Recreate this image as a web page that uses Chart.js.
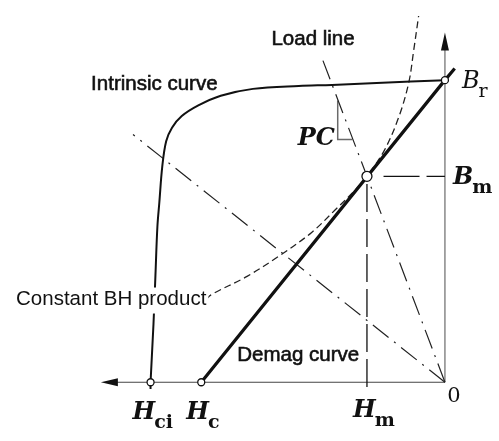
<!DOCTYPE html>
<html lang="en">
<head>
<meta charset="UTF-8">
<title>Demagnetization curve</title>
<script src="https://cdn.jsdelivr.net/npm/chart.js"></script>
<style>
  html, body { margin: 0; padding: 0; background: #fff; }
  #wrap { width: 499px; height: 441px; }
</style>
</head>
<body>
<div id="wrap"><canvas id="bh" width="499" height="441"></canvas></div>
<script>
// Second-quadrant B-H plane: H grows negative to the left, B grows upward, origin at lower right.

// key points: intrinsic coercivity, coercivity, operating point, remanence
const coercivityHci = -302;
const coercivityHc = -250;
const remanenceBr = 311;
const operatingH = -80;
const operatingB = 212;

// intrinsic curve (from Hci up to Br)
const intrinsicH = [-302, -302, -299, -297, -295, -293, -290, -286, -280, -270, -253, -230, -197, -150, -116, -70, 0];
const intrinsicB = [-7, 0, 60, 110, 160, 185, 222, 248, 262, 274, 285, 295, 302, 305, 306, 308, 311];

// constant BH product curve
const bhProductH = [-245, -240, -203, -170, -137, -113, -90, -80, -62, -47, -37, -32, -27];
const bhProductB = [85, 90, 109, 130, 154, 177, 200, 212, 239, 274, 309, 342, 377];

// demag line from Hc through Br, run a little past the B axis
const demagH = [coercivityHc, 0, 10];
const demagB = [0, remanenceBr, 323];

// load line through the origin and the operating point
const loadH = [0, operatingH, -127];
const loadB = [0, operatingB, 336];

// second dash-dot line from the origin
const diagH = [0, -320];
const diagB = [0, 255];

// slope triangle on the load line (PC)
const pcH = [-110, -110, -95];
const pcB = [290, 250, 250];

const axisHEnd = -353;
const axisBEnd = 360;

const xy = (hs, bs) => hs.map((h, i) => ({ x: h, y: bs[i] }));

const ink = '#111';
const grey = '#6a6a6a';
const sans = '"Liberation Sans", Arial, sans-serif';
const serif = '"DejaVu Serif", "Liberation Serif", serif';

const arrowsAndLabels = {
  id: 'arrowsAndLabels',
  afterDatasetsDraw(chart) {
    const ctx = chart.ctx;
    const px = v => chart.scales.x.getPixelForValue(v);
    const py = v => chart.scales.y.getPixelForValue(v);
    const ox = px(0), oy = py(0);

    // arrow heads at the axis ends
    ctx.save();
    ctx.fillStyle = ink;
    let tx = px(axisHEnd);
    ctx.beginPath();
    ctx.moveTo(tx, oy);
    ctx.lineTo(tx + 17, oy - 4);
    ctx.lineTo(tx + 17, oy + 4);
    ctx.closePath();
    ctx.fill();
    let ty = py(axisBEnd);
    ctx.beginPath();
    ctx.moveTo(ox, ty);
    ctx.lineTo(ox - 4, ty + 18);
    ctx.lineTo(ox + 4, ty + 18);
    ctx.closePath();
    ctx.fill();
    ctx.restore();

    function sansText(str, x, y, heavy, boxed) {
      ctx.save();
      ctx.font = '20.5px ' + sans;
      ctx.textBaseline = 'alphabetic';
      ctx.textAlign = 'left';
      if (boxed) {
        const w = ctx.measureText(str).width;
        ctx.fillStyle = '#fff';
        ctx.fillRect(x - 2, y - 17, w + 4, 26);
      }
      ctx.fillStyle = ink;
      ctx.fillText(str, x, y);
      if (heavy) {
        ctx.strokeStyle = ink;
        ctx.lineWidth = 0.6;
        ctx.strokeText(str, x, y);
      }
      ctx.restore();
    }

    // symbol with subscript, left edge at x, baseline at y
    function symbol(main, sub, x, y, bold, italicMain) {
      ctx.save();
      ctx.fillStyle = ink;
      ctx.textBaseline = 'alphabetic';
      ctx.textAlign = 'left';
      const w = bold ? 'bold ' : '';
      ctx.font = (italicMain ? 'italic ' : '') + w + '24px ' + serif;
      ctx.fillText(main, x, y);
      const mw = ctx.measureText(main).width;
      if (sub) {
        ctx.font = w + '19px ' + serif;
        ctx.fillText(sub, x + mw - 1, y + 9);
      }
      ctx.restore();
    }

    sansText('Intrinsic curve', px(-363), py(301), true);
    sansText('Load line', px(-178), py(347), true);
    sansText('Constant BH product', px(-440), py(80), false, true);
    sansText('Demag curve', px(-213), py(22), true);

    symbol('PC', '', px(-151), py(244), true, true);
    symbol('B', 'r', px(0) + 17, py(remanenceBr) + 8, false, true);
    symbol('B', 'm', px(0) + 8, py(operatingB) + 8, true, true);
    symbol('H', 'ci', px(coercivityHci) - 18, oy + 37, true, true);
    symbol('H', 'c', px(coercivityHc) - 15, oy + 37, true, true);
    symbol('H', 'm', px(operatingH) - 14, oy + 35, true, true);

    ctx.save();
    ctx.fillStyle = ink;
    ctx.font = '21px ' + serif;
    ctx.textAlign = 'center';
    ctx.fillText('0', ox + 9, oy + 20);
    ctx.restore();
  }
};

const dashDot = [20, 7, 2, 7];

new Chart(document.getElementById('bh'), {
  type: 'scatter',
  data: {
    datasets: [
      {
        // open circles at Hci, Hc, Br and the operating point
        data: xy([coercivityHci, coercivityHc, 0, operatingH], [0, 0, remanenceBr, operatingB]),
        pointRadius: [3.5, 3.5, 3.5, 5],
        pointBackgroundColor: '#fff',
        pointBorderColor: ink,
        pointBorderWidth: 1.3,
        showLine: false,
        order: 0
      },
      {
        data: xy(demagH, demagB),
        showLine: true, borderColor: ink, borderWidth: 3.2, pointRadius: 0, order: 1
      },
      {
        data: xy(intrinsicH, intrinsicB),
        showLine: true, borderColor: ink, borderWidth: 2, tension: 0.35, pointRadius: 0, order: 2
      },
      {
        data: xy(bhProductH, bhProductB),
        showLine: true, borderColor: '#222', borderWidth: 1.3, borderDash: [7, 4],
        tension: 0.35, pointRadius: 0, order: 3
      },
      {
        data: xy(loadH, loadB),
        showLine: true, borderColor: '#222', borderWidth: 1.2, borderDash: dashDot, pointRadius: 0, order: 4
      },
      {
        data: xy(diagH, diagB),
        showLine: true, borderColor: '#222', borderWidth: 1.2, borderDash: dashDot, pointRadius: 0, order: 5
      },
      {
        // guide from the operating point to the B axis
        data: xy([operatingH + 17, 0], [operatingB, operatingB]),
        showLine: true, borderColor: ink, borderWidth: 1.3, borderDash: [36, 7], pointRadius: 0, order: 6
      },
      {
        // guide from the operating point down to Hm
        data: xy([operatingH, operatingH], [operatingB - 8, -8]),
        showLine: true, borderColor: ink, borderWidth: 1.3, borderDash: [28, 7], pointRadius: 0, order: 7
      },
      {
        data: xy(pcH, pcB),
        showLine: true, borderColor: grey, borderWidth: 1.5, pointRadius: 0, order: 8
      },
      {
        // H axis
        data: xy([axisHEnd + 10, 0], [0, 0]),
        showLine: true, borderColor: '#444', borderWidth: 1.2, pointRadius: 0, order: 9
      },
      {
        // B axis
        data: xy([0, 0], [0, axisBEnd - 10]),
        showLine: true, borderColor: grey, borderWidth: 1.2, pointRadius: 0, order: 10
      }
    ]
  },
  options: {
    responsive: false,
    animation: false,
    events: [],
    layout: { padding: 0 },
    plugins: { legend: { display: false }, tooltip: { enabled: false } },
    scales: {
      x: { type: 'linear', min: -450, max: 49, display: false },
      y: { type: 'linear', min: -54, max: 387, display: false }
    }
  },
  plugins: [arrowsAndLabels]
});
</script>
</body>
</html>
